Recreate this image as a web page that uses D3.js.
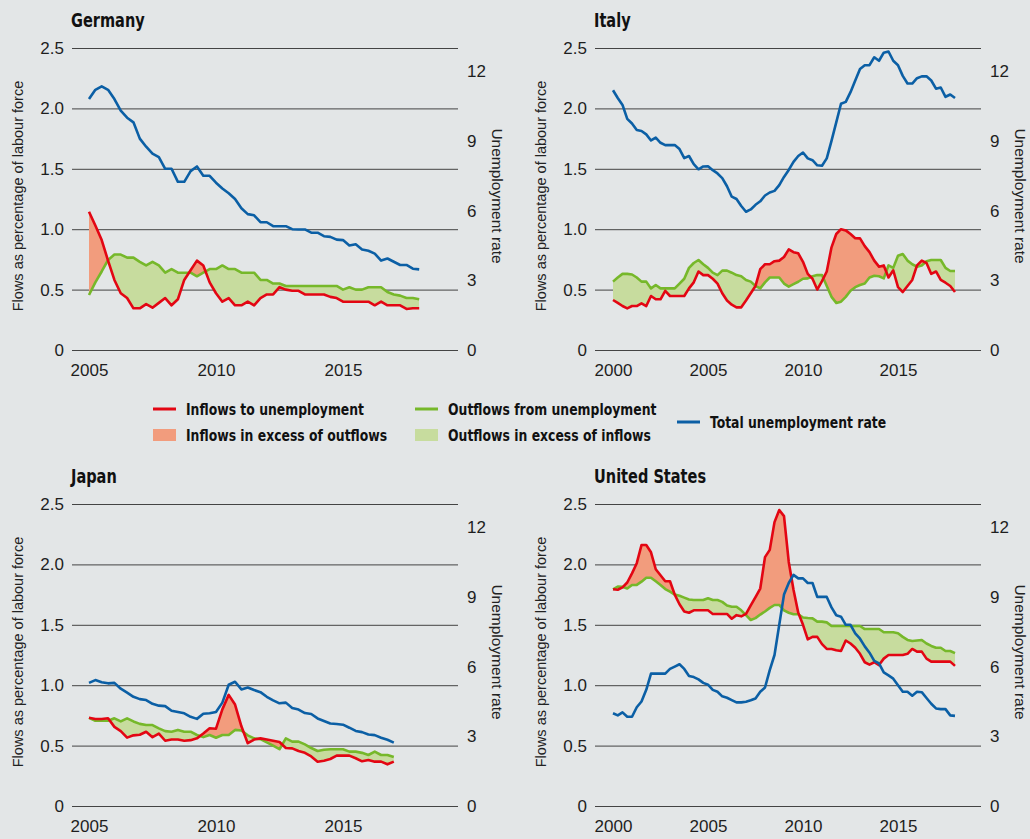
<!DOCTYPE html>
<html>
<head>
<meta charset="utf-8">
<script src="https://cdn.jsdelivr.net/npm/d3@7"></script>
<style>
  html, body { margin: 0; padding: 0; background: #e3e6e7; }
  svg { display: block; }
  .tick text { font-family: 'Liberation Sans', Arial, sans-serif; font-size: 17px; fill: #1e1e1e; }
  .title { font-family: 'Liberation Sans Narrow', 'DejaVu Sans Condensed', sans-serif; font-weight: bold; font-size: 19px; fill: #111; }
  .axis-title { font-family: 'Liberation Sans', Arial, sans-serif; font-size: 14.5px; fill: #222; }
  .legend text { font-family: 'Liberation Sans Narrow', 'DejaVu Sans Condensed', sans-serif; font-weight: bold; font-size: 15.5px; fill: #111; }
</style>
</head>
<body>
<div id="chart"></div>
<script>
// quarterly observations, flows as % of labour force, unemployment rate in %
const germanyInflow = [1.145,1.03,0.91,0.74,0.58,0.47,0.43,0.345,0.345,0.38,
  0.35,0.39,0.43,0.37,0.42,0.58,0.66,0.74,0.70,0.56,
  0.47,0.40,0.43,0.37,0.37,0.40,0.37,0.43,0.46,0.46,
  0.52,0.50,0.49,0.49,0.46,0.46,0.46,0.46,0.44,0.43,
  0.40,0.40,0.40,0.40,0.40,0.37,0.40,0.37,0.37,0.37,
  0.34,0.345,0.345];
const germanyOutflow = [0.455,0.56,0.65,0.745,0.79,0.79,0.765,0.765,0.73,0.70,
  0.73,0.70,0.64,0.67,0.64,0.64,0.64,0.61,0.64,0.67,
  0.67,0.70,0.67,0.67,0.64,0.64,0.64,0.58,0.58,0.55,
  0.55,0.53,0.53,0.53,0.53,0.53,0.53,0.53,0.53,0.53,
  0.50,0.52,0.50,0.50,0.52,0.52,0.52,0.48,0.46,0.45,
  0.43,0.43,0.42];
const germanyRate = [10.8,11.2,11.35,11.2,10.8,10.3,10.0,9.8,9.1,8.75,
  8.45,8.3,7.8,7.8,7.24,7.24,7.7,7.9,7.5,7.5,
  7.2,6.95,6.75,6.5,6.1,5.85,5.8,5.5,5.5,5.33,
  5.33,5.33,5.2,5.19,5.19,5.05,5.05,4.9,4.87,4.75,
  4.73,4.5,4.55,4.33,4.27,4.15,3.85,3.94,3.8,3.66,
  3.66,3.5,3.47];

const italyInflow = [0.414,0.39,0.364,0.345,0.364,0.364,0.386,0.364,0.447,0.42,
  0.42,0.49,0.447,0.447,0.447,0.447,0.51,0.56,0.65,0.62,
  0.62,0.59,0.55,0.47,0.41,0.375,0.353,0.353,0.41,0.47,
  0.53,0.67,0.71,0.71,0.735,0.74,0.77,0.833,0.81,0.80,
  0.73,0.63,0.59,0.50,0.57,0.65,0.85,0.96,1.0,0.99,
  0.96,0.925,0.924,0.86,0.81,0.74,0.69,0.70,0.60,0.66,
  0.52,0.48,0.53,0.58,0.70,0.74,0.72,0.63,0.65,0.58,
  0.557,0.53,0.48];
const italyOutflow = [0.566,0.60,0.63,0.63,0.625,0.60,0.566,0.566,0.51,0.538,
  0.51,0.51,0.51,0.51,0.55,0.59,0.68,0.72,0.745,0.71,
  0.68,0.64,0.62,0.657,0.657,0.64,0.62,0.61,0.58,0.566,
  0.53,0.51,0.56,0.60,0.60,0.60,0.55,0.525,0.545,0.565,
  0.59,0.593,0.61,0.62,0.62,0.53,0.44,0.39,0.40,0.44,
  0.49,0.52,0.538,0.55,0.60,0.615,0.61,0.593,0.70,0.68,
  0.78,0.795,0.74,0.71,0.69,0.70,0.735,0.745,0.745,0.745,
  0.68,0.654,0.654];
const italyRate = [11.18,10.85,10.55,9.95,9.75,9.47,9.43,9.28,9.02,9.14,
  8.92,8.82,8.82,8.82,8.65,8.26,8.35,8.0,7.78,7.9,
  7.91,7.74,7.6,7.4,7.05,6.6,6.5,6.2,5.95,6.05,
  6.25,6.4,6.65,6.78,6.85,7.1,7.45,7.75,8.1,8.35,
  8.5,8.25,8.17,7.95,7.93,8.25,9.0,9.8,10.6,10.68,
  11.1,11.6,12.1,12.26,12.26,12.6,12.45,12.8,12.85,12.45,
  12.26,11.8,11.47,11.47,11.7,11.78,11.78,11.6,11.25,11.3,
  10.9,11.0,10.85];

const japanInflow = [0.73,0.72,0.72,0.726,0.655,0.62,0.566,0.585,0.59,0.615,
  0.57,0.6,0.54,0.55,0.55,0.54,0.545,0.56,0.6,0.643,
  0.64,0.80,0.92,0.84,0.66,0.52,0.55,0.56,0.55,0.54,
  0.53,0.48,0.477,0.455,0.44,0.41,0.367,0.375,0.389,0.417,
  0.417,0.417,0.395,0.37,0.38,0.367,0.367,0.345,0.367];
const japanOutflow = [0.73,0.706,0.706,0.706,0.726,0.70,0.726,0.70,0.68,0.67,
  0.67,0.643,0.62,0.615,0.63,0.615,0.615,0.588,0.57,0.588,
  0.565,0.588,0.588,0.63,0.625,0.585,0.56,0.553,0.527,0.5,
  0.47,0.56,0.533,0.533,0.51,0.48,0.455,0.465,0.47,0.47,
  0.47,0.45,0.45,0.44,0.422,0.45,0.422,0.422,0.405];
const japanRate = [5.3,5.42,5.33,5.28,5.3,5.05,4.88,4.7,4.6,4.56,
  4.4,4.32,4.3,4.1,4.05,3.99,3.84,3.75,3.97,3.99,
  4.05,4.45,5.22,5.35,5.02,5.1,4.99,4.9,4.7,4.55,
  4.42,4.45,4.22,4.15,4.0,3.96,3.77,3.66,3.55,3.53,
  3.5,3.37,3.23,3.18,3.08,3.05,2.94,2.85,2.73];

const usInflow = [1.794,1.79,1.81,1.85,1.926,2.01,2.16,2.16,2.1,1.96,
  1.91,1.86,1.86,1.75,1.67,1.61,1.6,1.62,1.62,1.62,
  1.62,1.59,1.59,1.59,1.59,1.55,1.58,1.57,1.59,1.66,
  1.73,1.8,2.06,2.12,2.35,2.45,2.4,2.02,1.79,1.6,
  1.5,1.38,1.40,1.40,1.34,1.30,1.30,1.29,1.283,1.37,
  1.345,1.31,1.26,1.19,1.17,1.19,1.167,1.22,1.25,1.25,
  1.25,1.25,1.26,1.30,1.278,1.278,1.22,1.195,1.195,1.195,
  1.195,1.195,1.16];
const usOutflow = [1.794,1.816,1.815,1.8,1.83,1.83,1.857,1.89,1.89,1.86,
  1.83,1.796,1.775,1.75,1.74,1.725,1.71,1.705,1.705,1.705,
  1.72,1.705,1.705,1.69,1.66,1.65,1.65,1.62,1.58,1.54,
  1.555,1.585,1.61,1.64,1.664,1.664,1.62,1.60,1.587,1.587,
  1.56,1.556,1.553,1.526,1.526,1.52,1.49,1.49,1.49,1.49,
  1.49,1.49,1.49,1.465,1.465,1.465,1.465,1.438,1.438,1.438,
  1.43,1.40,1.375,1.366,1.37,1.374,1.345,1.325,1.31,1.31,
  1.283,1.283,1.265];
const usRate = [3.99,3.9,4.03,3.84,3.84,4.25,4.5,5.0,5.7,5.7,
  5.7,5.7,5.9,6.0,6.1,5.9,5.6,5.55,5.45,5.3,
  5.22,5.0,4.92,4.72,4.66,4.56,4.46,4.46,4.49,4.55,
  4.63,4.92,5.1,5.85,6.5,7.8,9.1,9.6,9.95,9.8,
  9.8,9.6,9.6,9.0,9.0,9.0,8.55,8.21,8.15,7.8,
  7.8,7.43,7.2,6.87,6.6,6.25,6.14,5.75,5.62,5.48,
  5.2,4.92,4.92,4.75,4.92,4.9,4.65,4.4,4.2,4.17,
  4.17,3.9,3.88];

const flowTicks = [0, 0.5, 1.0, 1.5, 2.0, 2.5];
const rateTicks = [0, 3, 6, 9, 12];
const yearTicks2005 = [2005, 2010, 2015];
const yearTicks2000 = [2000, 2005, 2010, 2015];

const colors = {
    inflow: '#e30613', outflow: '#76b82a', rate: '#0b5fa5',
    inflowFill: '#f29c7d', outflowFill: '#c7dc9e', grid: '#444'
};

const panels = [
    { name: 'Germany', ox: 0, oy: 0, start: 2005, ticks: yearTicks2005, inflow: germanyInflow, outflow: germanyOutflow, rate: germanyRate },
    { name: 'Italy', ox: 523, oy: 0, start: 2000, ticks: yearTicks2000, inflow: italyInflow, outflow: italyOutflow, rate: italyRate },
    { name: 'Japan', ox: 0, oy: 456, start: 2005, ticks: yearTicks2005, inflow: japanInflow, outflow: japanOutflow, rate: japanRate },
    { name: 'United States', ox: 523, oy: 456, start: 2000, ticks: yearTicks2000, inflow: usInflow, outflow: usOutflow, rate: usRate }
];

const svg = d3.select('#chart').append('svg').attr('width', 1030).attr('height', 839);

const gridLeft = 72, gridRight = 458, yTop = 48, yBottom = 350;

// squeeze a text horizontally (no narrow bold font installed)
function condense(sel, factor) {
    sel.each(function () {
        const w = this.getComputedTextLength();
        d3.select(this).attr('textLength', w * factor).attr('lengthAdjust', 'spacingAndGlyphs');
    });
}

function drawPanel(p, idx) {
    const g = svg.append('g').attr('transform', `translate(${p.ox},${p.oy})`);

    const x = p.start === 2005
        ? d3.scaleLinear().domain([2005, 2015]).range([89, 343])
        : d3.scaleLinear().domain([2000, 2015]).range([90, 375]);
    const y = d3.scaleLinear().domain([0, 2.5]).range([yBottom, yTop]);
    const yR = d3.scaleLinear().domain([0, 13]).range([yBottom, yTop]);

    const data = p.inflow.map((v, i) => ({
        t: p.start + i / 4, inf: v, out: p.outflow[i], rate: p.rate[i]
    }));

    // grid + left axis
    const leftAxis = d3.axisLeft(y).tickValues(flowTicks)
        .tickFormat(d => d === 0 ? '0' : d3.format('.1f')(d))
        .tickSizeInner(-(gridRight - gridLeft)).tickSizeOuter(0).tickPadding(8);
    const la = g.append('g').attr('transform', `translate(${gridLeft},0)`).call(leftAxis);
    la.select('.domain').remove();
    la.selectAll('line').attr('stroke', colors.grid).attr('stroke-width', 1);

    const rightAxis = d3.axisRight(yR).tickValues(rateTicks).tickSize(0).tickPadding(9);
    const ra = g.append('g').attr('transform', `translate(${gridRight},0)`).call(rightAxis);
    ra.select('.domain').remove();

    const bottomAxis = d3.axisBottom(x).tickValues(p.ticks).tickFormat(d3.format('d')).tickSize(0).tickPadding(14);
    const ba = g.append('g').attr('transform', `translate(0,${yBottom})`).call(bottomAxis);
    ba.select('.domain').remove();

    // difference fills
    const above = d3.area().x(d => x(d.t)).y0(0).y1(d => y(d.out));
    const below = d3.area().x(d => x(d.t)).y0(yBottom + 10).y1(d => y(d.out));
    const between = d3.area().x(d => x(d.t)).y0(d => y(d.out)).y1(d => y(d.inf));

    const defs = g.append('defs');
    defs.append('clipPath').attr('id', 'clip-above-' + idx).append('path').attr('d', above(data));
    defs.append('clipPath').attr('id', 'clip-below-' + idx).append('path').attr('d', below(data));

    g.append('path').attr('d', between(data)).attr('fill', colors.inflowFill)
        .attr('clip-path', `url(#clip-above-${idx})`);
    g.append('path').attr('d', between(data)).attr('fill', colors.outflowFill)
        .attr('clip-path', `url(#clip-below-${idx})`);

    const lineOf = key => d3.line().x(d => x(d.t)).y(d => key === 'rate' ? yR(d.rate) : y(d[key]));
    g.append('path').attr('d', lineOf('out')(data)).attr('fill', 'none')
        .attr('stroke', colors.outflow).attr('stroke-width', 2.6).attr('stroke-linejoin', 'round');
    g.append('path').attr('d', lineOf('inf')(data)).attr('fill', 'none')
        .attr('stroke', colors.inflow).attr('stroke-width', 2.6).attr('stroke-linejoin', 'round');
    g.append('path').attr('d', lineOf('rate')(data)).attr('fill', 'none')
        .attr('stroke', colors.rate).attr('stroke-width', 2.6).attr('stroke-linejoin', 'round');

    // titles
    g.append('text').attr('class', 'title').attr('x', 71).attr('y', 27).text(p.name)
        .call(condense, 0.85);
    g.append('text').attr('class', 'axis-title')
        .attr('transform', 'translate(23,196) rotate(-90)').attr('text-anchor', 'middle')
        .text('Flows as percentage of labour force');
    g.append('text').attr('class', 'axis-title')
        .attr('transform', 'translate(492,196) rotate(90)').attr('text-anchor', 'middle')
        .style('font-size', '15.5px')
        .text('Unemployment rate');
}

panels.forEach(drawPanel);

// legend
const legend = svg.append('g').attr('class', 'legend');
const legendItems = [
    { type: 'line', color: colors.inflow, x: 153, y: 409, label: 'Inflows to unemployment' },
    { type: 'rect', color: colors.inflowFill, x: 153, y: 435, label: 'Inflows in excess of outflows' },
    { type: 'line', color: colors.outflow, x: 415, y: 409, label: 'Outflows from unemployment' },
    { type: 'rect', color: colors.outflowFill, x: 415, y: 435, label: 'Outflows in excess of inflows' },
    { type: 'line', color: colors.rate, x: 677, y: 422, label: 'Total unemployment rate' }
];
legendItems.forEach(it => {
    if (it.type === 'line') {
        legend.append('line').attr('x1', it.x).attr('x2', it.x + 23).attr('y1', it.y).attr('y2', it.y)
            .attr('stroke', it.color).attr('stroke-width', 3);
    } else {
        legend.append('rect').attr('x', it.x).attr('y', it.y - 6).attr('width', 23).attr('height', 12)
            .attr('fill', it.color);
    }
    legend.append('text').attr('x', it.x + 33).attr('y', it.y + 6).text(it.label)
        .call(condense, 0.89);
});
</script>
</body>
</html>
